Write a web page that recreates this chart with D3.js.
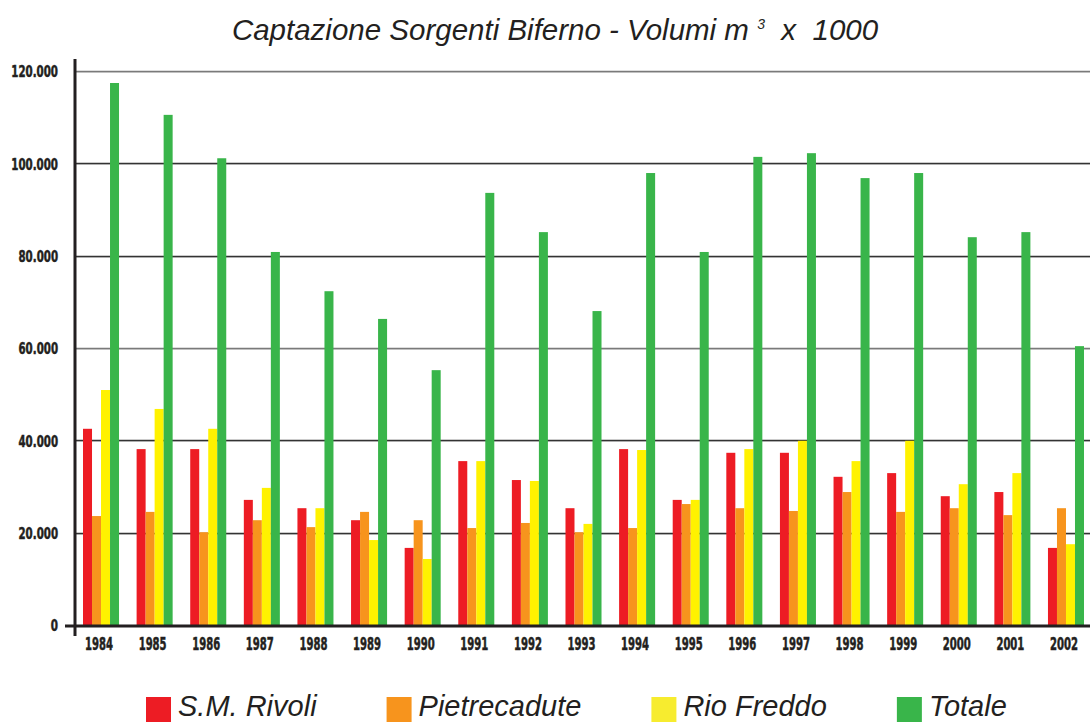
<!DOCTYPE html>
<html>
<head>
<meta charset="utf-8">
<script src="https://cdn.jsdelivr.net/npm/d3@7"></script>
<style>
  html, body { margin: 0; padding: 0; background: #fff; }
  svg { display: block; }
  .title { font-family: "Liberation Sans", Arial, sans-serif; font-style: italic; font-size: 29.5px; fill: #231f20; white-space: pre; }
  .tick-label { font-family: "DejaVu Sans Condensed", "DejaVu Sans", sans-serif; font-weight: bold; fill: #231f20; stroke: #231f20; stroke-width: 0.5px; }
  .legend-text { font-family: "Liberation Sans", Arial, sans-serif; font-style: italic; font-size: 29px; fill: #231f20; }
</style>
</head>
<body>
<div id="chart"></div>
<script>
// data (migliaia di m3)
const years = ["1984", "1985", "1986", "1987", "1988", "1989", "1990", "1991", "1992", "1993",
  "1994", "1995", "1996", "1997", "1998", "1999", "2000", "2001", "2002"];
const seriesNames = ["S.M. Rivoli", "Pietrecadute", "Rio Freddo", "Totale"];
const rivoli = [42.5, 38.1, 38.1, 27.1, 25.3, 22.7, 16.7, 35.5, 31.4, 25.3,
  38.1, 27.1, 37.3, 37.3, 32.1, 32.9, 27.9, 28.8, 16.7];
const pietrecadute = [23.6, 24.5, 20.1, 22.7, 21.2, 24.5, 22.7, 21.0, 22.1, 20.1,
  21.0, 26.2, 25.3, 24.7, 28.8, 24.5, 25.3, 23.8, 25.3];
const rioFreddo = [50.9, 46.8, 42.5, 29.7, 25.3, 18.4, 14.3, 35.5, 31.2, 21.9,
  37.9, 27.1, 38.1, 39.9, 35.5, 39.9, 30.5, 32.9, 17.5];
const totale = [117.4, 110.5, 101.1, 80.8, 72.3, 66.3, 55.2, 93.6, 85.1, 68.0,
  97.9, 80.8, 101.4, 102.2, 96.8, 97.9, 84.0, 85.1, 60.4];
const yTicks = [0, 20, 40, 60, 80, 100, 120];

const COLORS = ["#ed1c24", "#f7941d", "#fff200", "#39b54a"];
const LEGEND_COLORS = ["#ed1c24", "#f7941d", "#f7ec2f", "#39b54a"];

const W = 1090, H = 722;
const svg = d3.select("#chart").append("svg")
  .attr("width", W)
  .attr("height", H);

const x = d3.scaleBand().domain(years).range([77, 1090]).paddingInner(0.328).paddingOuter(0.112);
const xs = d3.scaleBand().domain(seriesNames).range([0, x.bandwidth()]);
const y = d3.scaleLinear().domain([0, 120]).range([625, 71]);
const fmt = v => v === 0 ? "0" : d3.format(".3f")(v).replace(",", ".");

// narrow the condensed labels to the width of the original lettering
const labelWidth = s => s.replace(/\./g, "").length * 7.2 + (s.match(/\./g) || []).length * 3.5;

// title
const title = svg.append("text")
  .attr("class", "title")
  .attr("x", 555)
  .attr("y", 40)
  .attr("text-anchor", "middle");
title.append("tspan").text("Captazione Sorgenti Biferno - Volumi m ");
title.append("tspan").attr("dy", -11).attr("font-size", 14).text("3");
title.append("tspan").attr("dy", 11).text("  x  1000");

// gridlines
const grid = svg.append("g");
grid.selectAll("line.shadow")
  .data(yTicks.filter(d => d > 0))
  .enter().append("line")
  .attr("class", "shadow")
  .attr("x1", 76).attr("x2", W)
  .attr("y1", d => Math.round(y(d)) + 1.5).attr("y2", d => Math.round(y(d)) + 1.5)
  .attr("stroke", "#d8d8d8").attr("stroke-width", 1);
grid.selectAll("line.main")
  .data(yTicks.filter(d => d > 0))
  .enter().append("line")
  .attr("class", "main")
  .attr("x1", 76).attr("x2", W)
  .attr("y1", d => Math.round(y(d)) + 0.5).attr("y2", d => Math.round(y(d)) + 0.5)
  .attr("stroke", d => (d === 120 || d === 60) ? "#7a7a7a" : "#333").attr("stroke-width", 1.3);

// bars
const series = [rivoli, pietrecadute, rioFreddo, totale];
const groups = svg.append("g")
  .selectAll("g")
  .data(years)
  .enter().append("g")
  .attr("transform", d => `translate(${x(d)},0)`);

groups.selectAll("rect")
  .data((d, i) => seriesNames.map((s, j) => ({ key: s, value: series[j][i], color: COLORS[j] })))
  .enter().append("rect")
  .attr("x", d => xs(d.key))
  .attr("width", xs.bandwidth())
  .attr("y", d => y(d.value))
  .attr("height", d => y(0) - y(d.value))
  .attr("fill", d => d.color);

// axes
const yAxis = svg.append("g")
  .attr("transform", "translate(75,0)")
  .call(d3.axisLeft(y).tickValues(yTicks).tickSize(0).tickPadding(17).tickFormat(fmt));
yAxis.select(".domain").remove();
yAxis.selectAll("text")
  .attr("class", "tick-label")
  .attr("font-size", 16)
  .attr("dy", "0.36em")
  .attr("textLength", function () { return labelWidth(this.textContent); })
  .attr("lengthAdjust", "spacingAndGlyphs");

const xAxis = svg.append("g")
  .attr("transform", "translate(0,625)")
  .call(d3.axisBottom(x).tickSize(0).tickPadding(13));
xAxis.select(".domain").remove();
xAxis.selectAll("text")
  .attr("class", "tick-label")
  .attr("font-size", 17)
  .attr("x", 0)
  .attr("transform", function () {
    const k = 28 / this.getComputedTextLength();
    return `translate(-2,0) scale(${k},1)`;
  });

svg.append("line")
  .attr("x1", 75).attr("x2", 75).attr("y1", 59).attr("y2", 636)
  .attr("stroke", "#231f20").attr("stroke-width", 3);
svg.append("line")
  .attr("x1", 65).attr("x2", W).attr("y1", y(0) + 1).attr("y2", y(0) + 1)
  .attr("stroke", "#231f20").attr("stroke-width", 3);

// legend
const legend = svg.append("g").attr("transform", "translate(146,697)");
let lx = 0;
seriesNames.forEach((name, i) => {
  const item = legend.append("g").attr("transform", `translate(${lx},0)`);
  item.append("rect")
    .attr("width", 25).attr("height", 25)
    .attr("fill", LEGEND_COLORS[i]);
  const t = item.append("text")
    .attr("class", "legend-text")
    .attr("x", 32)
    .attr("y", 19)
    .text(name);
  lx += 32 + t.node().getComputedTextLength() + 70;
});
</script>
</body>
</html>
